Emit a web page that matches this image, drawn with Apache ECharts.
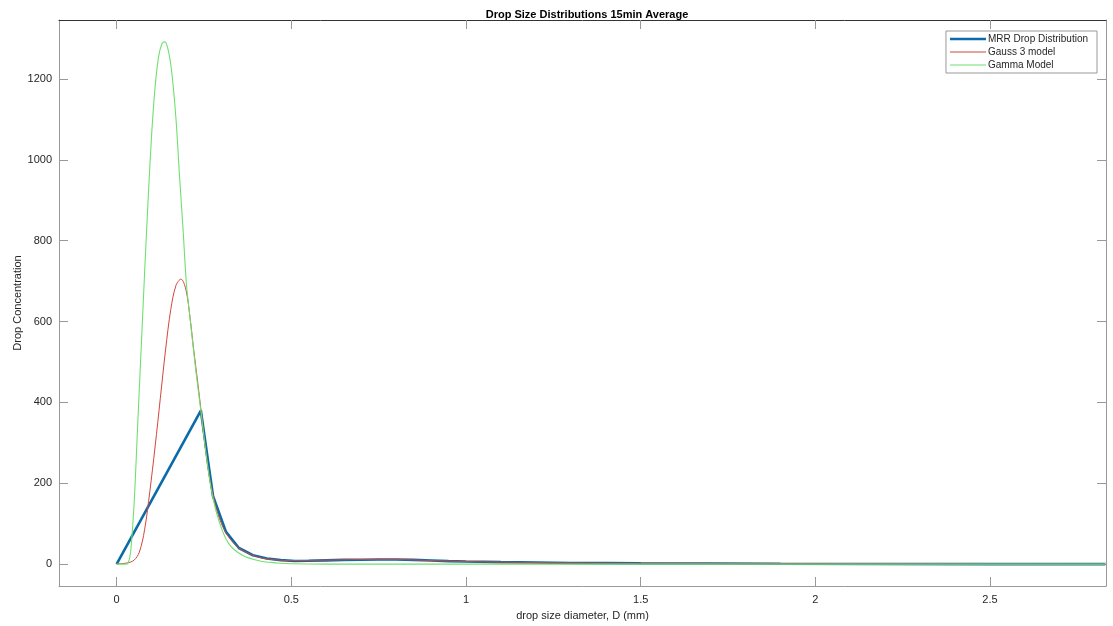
<!DOCTYPE html>
<html>
<head>
<meta charset="utf-8">
<script src="https://cdn.jsdelivr.net/npm/echarts@6/dist/echarts.min.js"></script>
<style>
html,body{margin:0;padding:0;background:#fff;}
#chart{width:1113px;height:626px;}
</style>
</head>
<body>
<div id="chart"></div>
<script>
// ---- Data ----
var xTickValues = [0, 0.5, 1, 1.5, 2, 2.5];
var yTickValues = [0, 200, 400, 600, 800, 1000, 1200];

var mrrD = [0, 0.241, 0.276, 0.313, 0.35, 0.39, 0.43, 0.47, 0.51, 0.55, 0.6, 0.65, 0.7, 0.75, 0.8, 0.85, 0.9, 0.95, 1.0, 1.1, 1.2, 1.3, 1.4, 1.5, 1.7, 1.9, 2.2, 2.5, 2.83];
var mrrN = [0, 380, 168, 80, 40, 22, 14, 10, 8, 8.5, 9.5, 10.5, 11, 11.5, 11.5, 10.5, 9, 7.5, 6.5, 5, 4, 3, 2.5, 2, 1.5, 1, 0.5, 0.2, 0];

var gaussD = [0, 0.03, 0.05, 0.065, 0.08, 0.095, 0.11, 0.125, 0.14, 0.155, 0.17, 0.184, 0.198, 0.21, 0.222, 0.232, 0.241, 0.26, 0.28, 0.3, 0.32, 0.35, 0.4, 0.45, 0.5, 0.6, 0.7, 0.8, 0.9, 1.0, 1.2, 1.5, 2.0, 2.5, 2.83];
var gaussN = [1, 3, 10, 30, 85, 180, 290, 410, 530, 630, 690, 705, 680, 610, 520, 450, 385, 245, 155, 100, 68, 40, 19, 11, 9, 10, 11.5, 11.5, 9, 6.5, 4, 2, 1, 0.3, 0];

var gammaD = [0, 0.025, 0.033, 0.04, 0.05, 0.06, 0.07, 0.08, 0.09, 0.1, 0.11, 0.12, 0.13, 0.138, 0.148, 0.158, 0.17, 0.18, 0.19, 0.2, 0.21, 0.22, 0.23, 0.241, 0.255, 0.27, 0.29, 0.32, 0.36, 0.41, 0.46, 0.5, 0.6, 0.8, 1.0, 1.5, 2.0, 2.5, 2.83];
var gammaN = [0, 0, 3, 30, 150, 340, 530, 720, 900, 1060, 1180, 1255, 1288, 1292, 1270, 1215, 1100, 960, 830, 690, 610, 530, 455, 380, 280, 190, 115, 52, 22, 8, 3, 1, 0, 0, 0, 0, 0, 0, 0];

function pairs(xs, ys) { return xs.map(function (x, i) { return [x, ys[i]]; }); }
function plain(v) { return String(v); }

var FONT = 'Liberation Sans, Arial, Helvetica, sans-serif';
var chart = echarts.init(document.getElementById('chart'), null, {renderer: 'canvas'});

var tickStyle = {inside: true, length: 9, lineStyle: {color: '#999', width: 1}};
var thickIcon = 'path://M0,0h0.01v10h-0.01z M0,3.7h36v2.6h-36z';
var thinIcon = 'path://M0,0h0.01v10h-0.01z M0,4.5h36v1h-36z';

chart.setOption({
  backgroundColor: '#fff',
  animation: false,
  title: {
    text: 'Drop Size Distributions 15min Average',
    left: 582, textAlign: 'center', top: 4,
    textStyle: {fontFamily: FONT, fontSize: 11, fontWeight: 'bold', color: '#000'}
  },
  legend: {
    orient: 'vertical', right: 16, top: 31,
    backgroundColor: '#fff', borderColor: '#999', borderWidth: 1,
    padding: [3, 9, 3, 4],
    itemWidth: 36, itemHeight: 10, itemGap: 3,
    textStyle: {fontFamily: FONT, fontSize: 10, color: '#262626', padding: [0, 0, 0, -3]},
    data: [
      {name: 'MRR Drop Distribution', icon: thickIcon},
      {name: 'Gauss 3 model', icon: thinIcon},
      {name: 'Gamma Model', icon: thinIcon}
    ]
  },
  grid: {left: 59, right: 7, top: 20, bottom: 40, containLabel: false, outerBoundsMode: 'none'},
  xAxis: [{
    type: 'value', min: -0.165, max: 2.832,
    name: 'drop size diameter, D (mm)', nameLocation: 'middle', nameGap: 24, nameMoveOverlap: false,
    nameTextStyle: {fontFamily: FONT, fontSize: 11, color: '#262626'},
    axisLine: {show: true, onZero: false, lineStyle: {color: '#999'}},
    axisTick: Object.assign({customValues: xTickValues}, tickStyle),
    axisLabel: {customValues: xTickValues, formatter: plain, fontFamily: FONT, fontSize: 11, color: '#262626', margin: 8},
    splitLine: {show: false}
  }, {
    type: 'value', min: -0.165, max: 2.832, position: 'top',
    axisLine: {show: true, onZero: false, lineStyle: {color: '#333'}},
    axisTick: Object.assign({customValues: xTickValues}, tickStyle),
    axisLabel: {show: false}, splitLine: {show: false}
  }],
  yAxis: [{
    type: 'value', min: -54, max: 1346,
    name: 'Drop Concentration', nameLocation: 'middle', nameGap: 36, nameRotate: 90, nameMoveOverlap: false,
    nameTextStyle: {fontFamily: FONT, fontSize: 11, color: '#262626'},
    axisLine: {show: true, onZero: false, lineStyle: {color: '#999'}},
    axisTick: Object.assign({customValues: yTickValues}, tickStyle),
    axisLabel: {customValues: yTickValues, formatter: plain, fontFamily: FONT, fontSize: 11, color: '#262626', margin: 7},
    splitLine: {show: false}
  }, {
    type: 'value', min: -54, max: 1346, position: 'right',
    axisLine: {show: true, onZero: false, lineStyle: {color: '#999'}},
    axisTick: Object.assign({customValues: yTickValues}, tickStyle),
    axisLabel: {show: false}, splitLine: {show: false}
  }],
  series: [{
    name: 'MRR Drop Distribution', type: 'line', data: pairs(mrrD, mrrN),
    symbol: 'none', smooth: false,
    lineStyle: {color: '#0b6aa8', width: 2.6}, itemStyle: {color: '#0b6aa8'}, z: 2
  }, {
    name: 'Gauss 3 model', type: 'line', data: pairs(gaussD, gaussN),
    symbol: 'none', smooth: 0.35,
    lineStyle: {color: '#d2463c', width: 1}, itemStyle: {color: '#d2463c'}, z: 3
  }, {
    name: 'Gamma Model', type: 'line', data: pairs(gammaD, gammaN),
    symbol: 'none', smooth: 0.35,
    lineStyle: {color: '#6fe06f', width: 1.1}, itemStyle: {color: '#6fe06f'}, z: 4
  }]
});
</script>
</body>
</html>
